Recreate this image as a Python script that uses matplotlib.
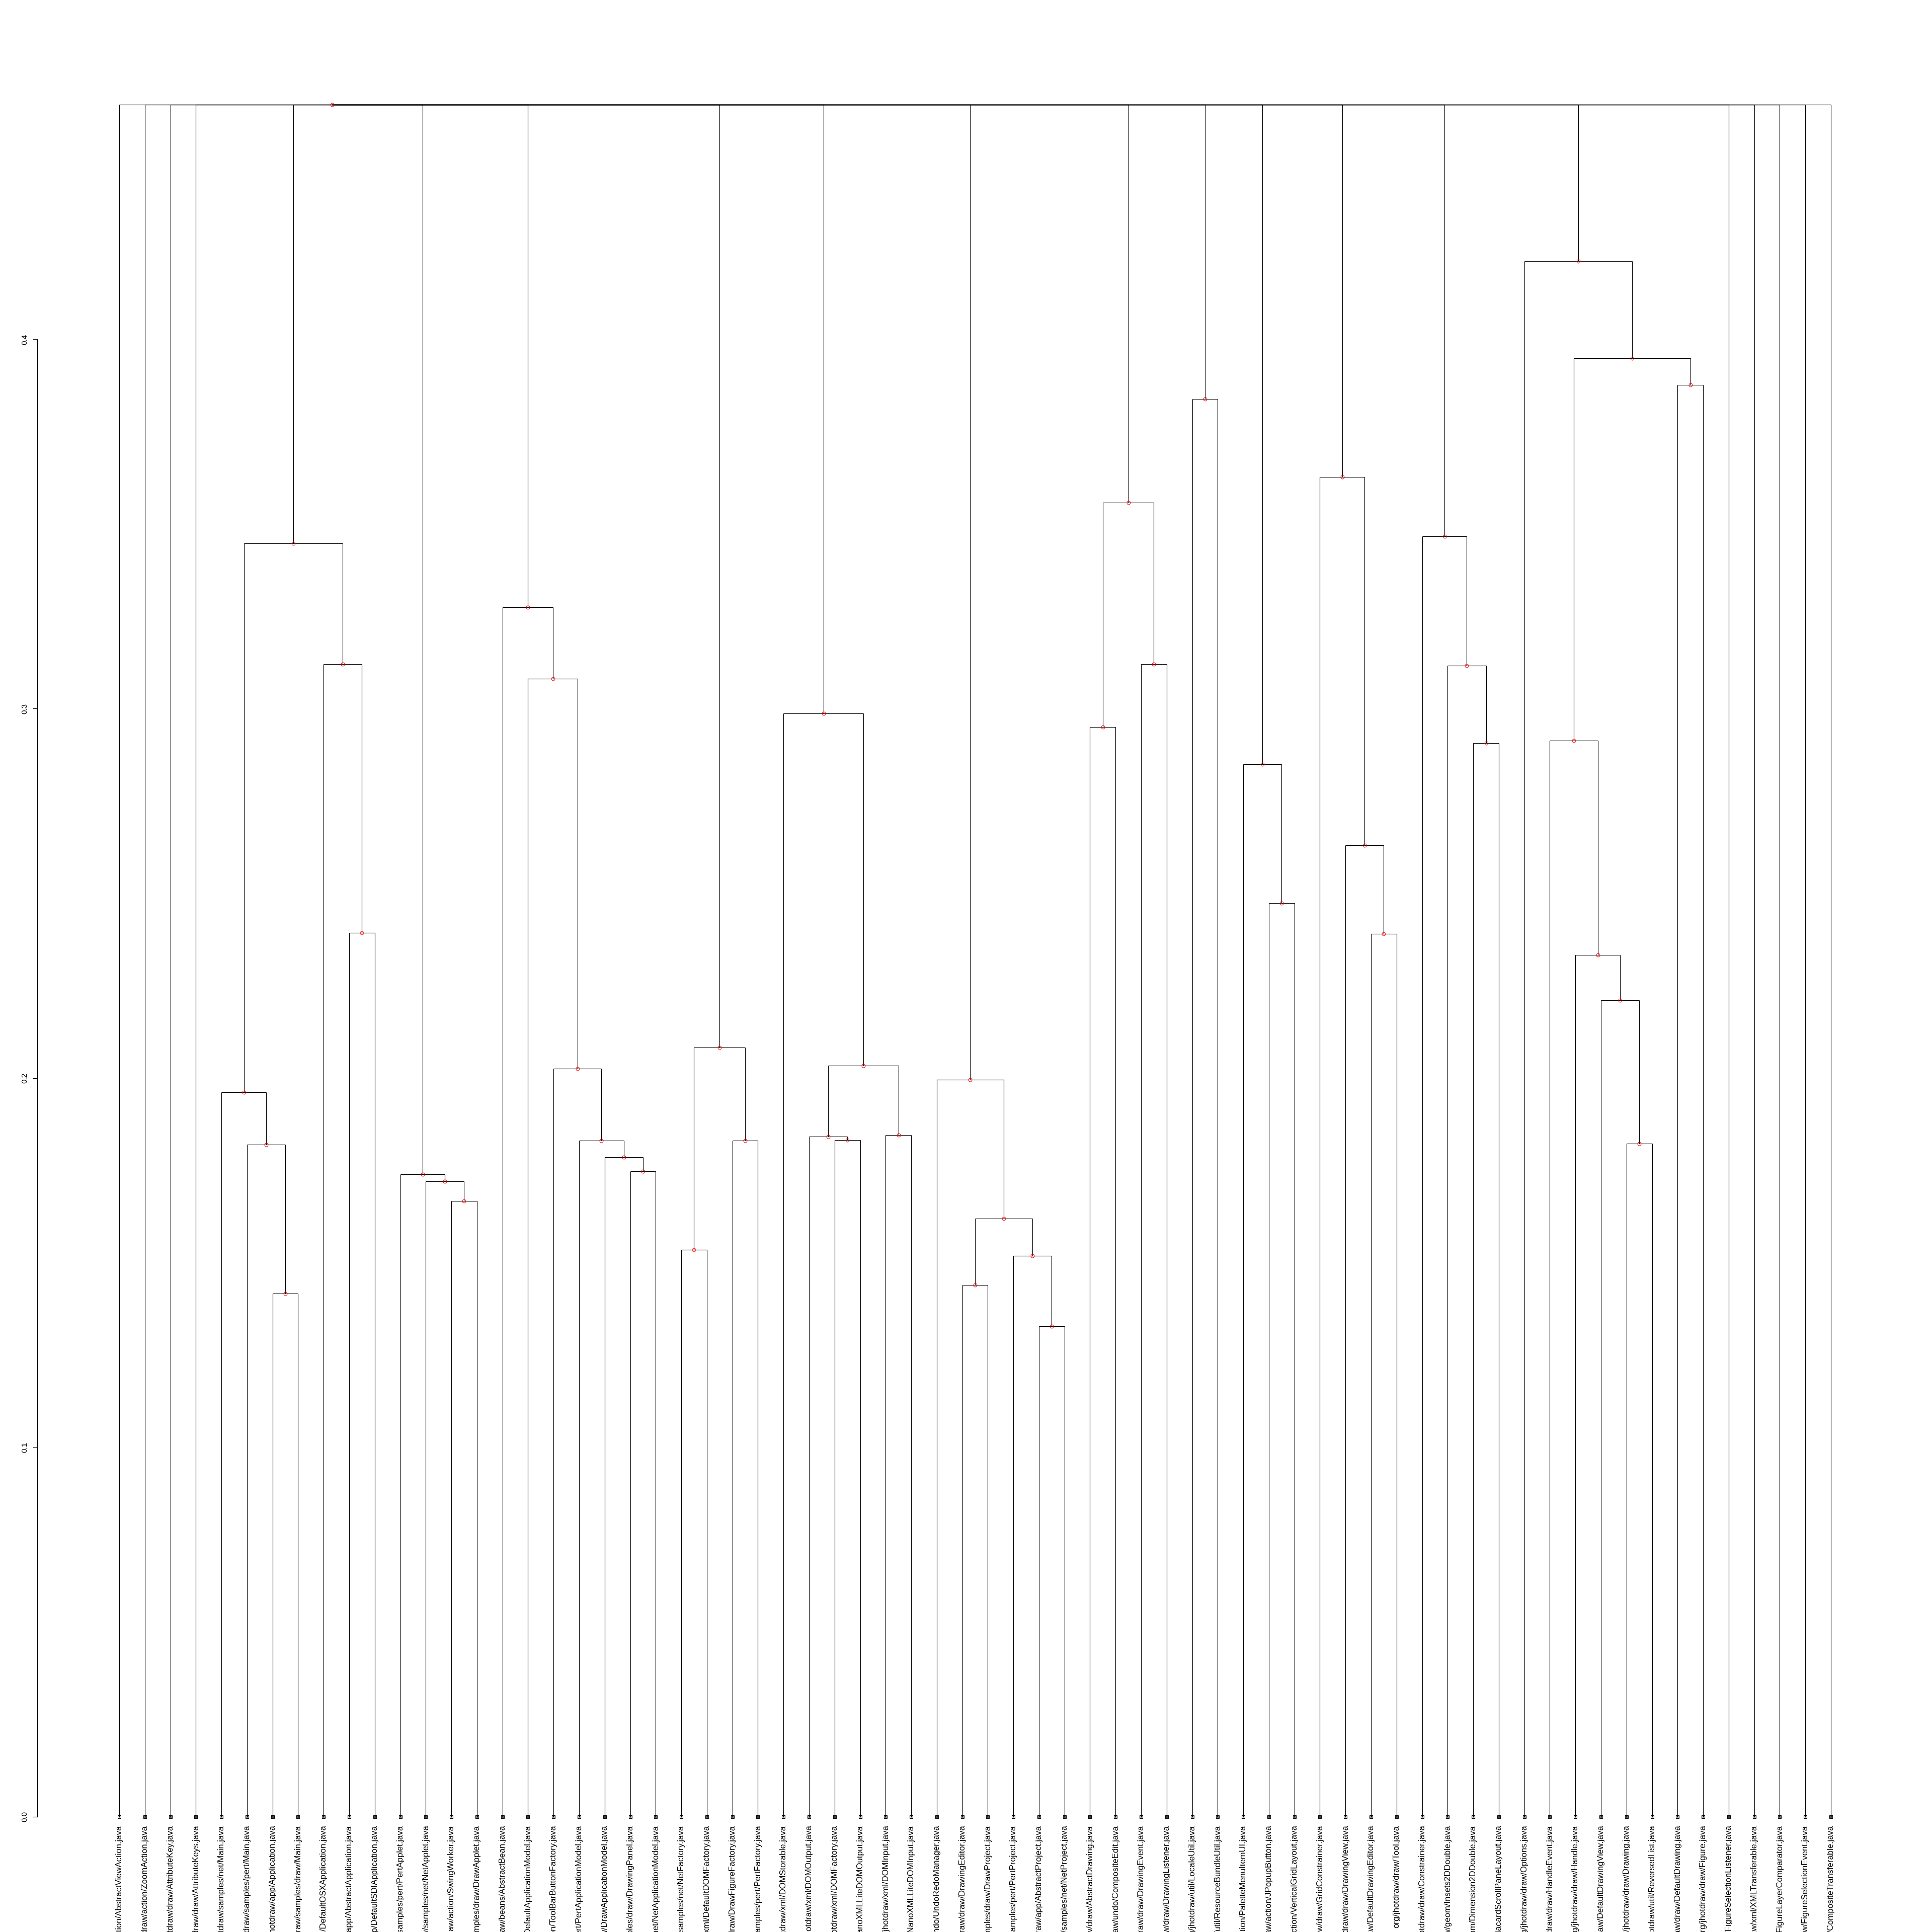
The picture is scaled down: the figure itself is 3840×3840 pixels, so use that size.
import matplotlib
matplotlib.use("Agg")
import matplotlib.pyplot as plt
from matplotlib.collections import LineCollection

plt.rcParams['font.family'] = ['Liberation Sans', 'DejaVu Sans']

# ---------------- data ----------------
leaf_labels = [
    "org/jhotdraw/draw/action/AbstractViewAction.java",
    "org/jhotdraw/draw/action/ZoomAction.java",
    "org/jhotdraw/draw/AttributeKey.java",
    "org/jhotdraw/draw/AttributeKeys.java",
    "org/jhotdraw/samples/net/Main.java",
    "org/jhotdraw/samples/pert/Main.java",
    "org/jhotdraw/app/Application.java",
    "org/jhotdraw/samples/draw/Main.java",
    "org/jhotdraw/app/DefaultOSXApplication.java",
    "org/jhotdraw/app/AbstractApplication.java",
    "org/jhotdraw/app/DefaultSDIApplication.java",
    "org/jhotdraw/samples/pert/PertApplet.java",
    "org/jhotdraw/samples/net/NetApplet.java",
    "org/jhotdraw/draw/action/SwingWorker.java",
    "org/jhotdraw/samples/draw/DrawApplet.java",
    "org/jhotdraw/beans/AbstractBean.java",
    "org/jhotdraw/app/DefaultApplicationModel.java",
    "org/jhotdraw/draw/action/ToolBarButtonFactory.java",
    "org/jhotdraw/samples/pert/PertApplicationModel.java",
    "org/jhotdraw/samples/draw/DrawApplicationModel.java",
    "org/jhotdraw/samples/draw/DrawingPanel.java",
    "org/jhotdraw/samples/net/NetApplicationModel.java",
    "org/jhotdraw/samples/net/NetFactory.java",
    "org/jhotdraw/xml/DefaultDOMFactory.java",
    "org/jhotdraw/samples/draw/DrawFigureFactory.java",
    "org/jhotdraw/samples/pert/PertFactory.java",
    "org/jhotdraw/xml/DOMStorable.java",
    "org/jhotdraw/xml/DOMOutput.java",
    "org/jhotdraw/xml/DOMFactory.java",
    "org/jhotdraw/xml/NanoXMLLiteDOMOutput.java",
    "org/jhotdraw/xml/DOMInput.java",
    "org/jhotdraw/xml/NanoXMLLiteDOMInput.java",
    "org/jhotdraw/undo/UndoRedoManager.java",
    "org/jhotdraw/draw/DrawingEditor.java",
    "org/jhotdraw/samples/draw/DrawProject.java",
    "org/jhotdraw/samples/pert/PertProject.java",
    "org/jhotdraw/app/AbstractProject.java",
    "org/jhotdraw/samples/net/NetProject.java",
    "org/jhotdraw/draw/AbstractDrawing.java",
    "org/jhotdraw/undo/CompositeEdit.java",
    "org/jhotdraw/draw/DrawingEvent.java",
    "org/jhotdraw/draw/DrawingListener.java",
    "org/jhotdraw/util/LocaleUtil.java",
    "org/jhotdraw/util/ResourceBundleUtil.java",
    "org/jhotdraw/draw/action/PaletteMenuItemUI.java",
    "org/jhotdraw/draw/action/JPopupButton.java",
    "org/jhotdraw/draw/action/VerticalGridLayout.java",
    "org/jhotdraw/draw/GridConstrainer.java",
    "org/jhotdraw/draw/DrawingView.java",
    "org/jhotdraw/draw/DefaultDrawingEditor.java",
    "org/jhotdraw/draw/Tool.java",
    "org/jhotdraw/draw/Constrainer.java",
    "org/jhotdraw/geom/Insets2DDouble.java",
    "org/jhotdraw/geom/Dimension2DDouble.java",
    "org/jhotdraw/gui/PlacardScrollPaneLayout.java",
    "org/jhotdraw/draw/Options.java",
    "org/jhotdraw/draw/HandleEvent.java",
    "org/jhotdraw/draw/Handle.java",
    "org/jhotdraw/draw/DefaultDrawingView.java",
    "org/jhotdraw/draw/Drawing.java",
    "org/jhotdraw/util/ReversedList.java",
    "org/jhotdraw/draw/DefaultDrawing.java",
    "org/jhotdraw/draw/Figure.java",
    "org/jhotdraw/draw/FigureSelectionListener.java",
    "org/jhotdraw/xml/XMLTransferable.java",
    "org/jhotdraw/draw/FigureLayerComparator.java",
    "org/jhotdraw/draw/FigureSelectionEvent.java",
    "org/jhotdraw/gui/datatransfer/CompositeTransferable.java",
]

# hclust-style merges: negative = leaf (1-based), positive = earlier merge (1-based)
merge_left = [-7, -6, -5, -10, -9, 3,
              -14, -13, -12,
              -21, -20, -19, -18, -17, -16,
              -23, -25, 16,
              -29, -28, -31, 20, -27,
              -34, -37, -36, 24, -33,
              -39, -41, 29,
              -43,
              -46, -45,
              -50, -49, -48,
              -54, -53, -52,
              -60, -59, -58, -57, -62, 44, -56]
merge_right = [-8, 1, 2, -11, 4, 5,
               -15, 7, 8,
               -22, 10, 11, 12, 13, 14,
               -24, -26, 17,
               -30, 19, -32, 21, 22,
               -35, -38, 25, 26, 27,
               -40, -42, 30,
               -44,
               -47, 33,
               -51, 35, 36,
               -55, 38, 39,
               -61, 41, 42, 43, -63, 45, 46]
merge_height = [0.1416, 0.1820, 0.1961, 0.2393, 0.3120, 0.3447,
                0.1667, 0.1720, 0.1739,
                0.1748, 0.1785, 0.1830, 0.2026, 0.3081, 0.3274,
                0.1535, 0.1830, 0.2082,
                0.1832, 0.1842, 0.1845, 0.2033, 0.2987,
                0.1439, 0.1328, 0.1518, 0.1620, 0.1995,
                0.2950, 0.3120, 0.3558,
                0.3838,
                0.2473, 0.2850,
                0.2390, 0.2630, 0.3627,
                0.2907, 0.3117, 0.3467,
                0.1823, 0.2210, 0.2333, 0.2913, 0.3877, 0.3948, 0.4211]
root_children = [-1, -2, -3, -4, 6, 9, 15, 18, 23, 28, 31, 32, 34, 37, 40, 47,
                 -64, -65, -66, -67, -68]
root_height = 0.4635
y_ticks = [0.0, 0.1, 0.2, 0.3, 0.4]
y_tick_labels = ["0.0", "0.1", "0.2", "0.3", "0.4"]


# ---------------- tree building (R dendrogram layout) ----------------
def make_node(ref):
    if ref < 0:
        return {"leaf": True, "label": leaf_labels[-ref - 1], "members": 1,
                "mid": 0.0, "h": 0.0, "kids": []}
    i = ref - 1
    return make_internal([merge_left[i], merge_right[i]], merge_height[i])


def make_internal(refs, h):
    kids = [make_node(r) for r in refs]
    members = sum(k["members"] for k in kids)
    mid = (kids[0]["members"] + sum(k["mid"] for k in kids)) / 2.0
    return {"leaf": False, "members": members, "mid": mid, "h": h, "kids": kids}


root = make_internal(root_children, root_height)
n_leaves = root["members"]

segments = []
node_pts = []
leaf_pts = []


def layout(node, xleft):
    x = xleft + node["mid"]
    if node["leaf"]:
        leaf_pts.append((x, node["label"]))
        return
    node_pts.append((x, node["h"]))
    xl = xleft
    for k in node["kids"]:
        cx = xl + k["mid"]
        segments.append([(x, node["h"]), (cx, node["h"])])
        segments.append([(cx, node["h"]), (cx, k["h"])])
        layout(k, xl)
        xl += k["members"]


layout(root, 1.0)

# ---------------- plotting ----------------
W = 3840.0
fig = plt.figure(figsize=(38.4, 38.4), dpi=100)
ax = fig.add_axes([73.5 / W, 93 / W, (3802.5 - 73.5) / W, 3675 / W])

ax.set_xlim(0.5 - 0.04 * n_leaves, n_leaves + 0.5 + 0.04 * n_leaves)
ax.set_ylim(-0.04 * root_height, 1.04 * root_height)

lc = LineCollection(segments, colors="black", linewidths=0.85)
ax.add_collection(lc)

ax.plot([p[0] for p in node_pts], [p[1] for p in node_pts], linestyle="none",
        marker="o", ms=5, mfc="none", mec="red", mew=0.7, zorder=3)

lx = [p[0] for p in leaf_pts]
ax.plot(lx, [0] * len(lx), linestyle="none", marker="s", ms=4.6, mfc="none",
        mec="black", mew=0.7, zorder=3)
ax.plot(lx, [0] * len(lx), linestyle="none", marker="x", ms=4.6,
        mec="black", mew=0.5, zorder=3)

for x, lab in leaf_pts:
    ax.annotate(lab, xy=(x, 0), xytext=(0, -12), textcoords="offset points",
                rotation=90, ha="center", va="top", fontsize=12,
                annotation_clip=False)

for s in ["top", "right", "bottom"]:
    ax.spines[s].set_visible(False)
ax.spines["left"].set_bounds(0, 0.4)
ax.spines["left"].set_linewidth(0.85)
ax.set_xticks([])
ax.set_yticks(y_ticks)
ax.set_yticklabels(y_tick_labels, rotation=90, va="center", fontsize=11)
ax.tick_params(axis="y", length=6.5, width=0.85, pad=6)

fig.savefig("out.png", dpi=100, facecolor="white")
